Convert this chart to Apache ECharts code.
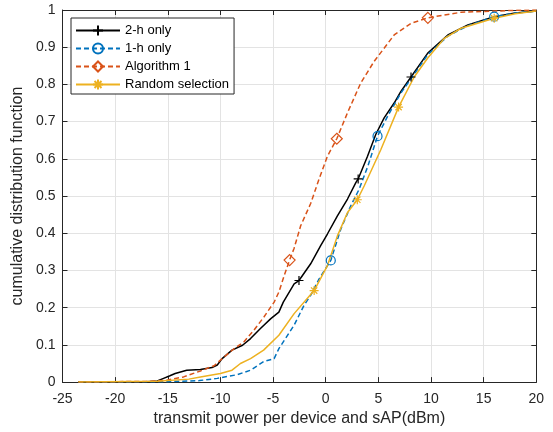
<!DOCTYPE html>
<html>
<head>
<meta charset="utf-8">
<script src="https://cdn.jsdelivr.net/npm/echarts@6/dist/echarts.min.js"></script>
<style>html,body{margin:0;padding:0;background:#fff}#c{width:553px;height:432px}</style>
</head>
<body>
<div id="c"></div>
<script>
// ---- data ----
const seriesNames = ['2-h only', '1-h only', 'Algorithm 1', 'Random selection'];

const x2h = [-23.5, -17, -16, -15.4, -14.8, -14.3, -13.2, -11.9, -10.8, -10.3, -9.84, -8.9, -7.9, -7.14, -6.2, -5.24, -4.45, -4.03, -3.0, -2.54, -1.43, -0.48, 0.16, 1.11, 2.07, 2.86, 3.08, 3.97, 4.76, 5.55, 6.5, 7.14, 8.1, 9.69, 11.6, 13.5, 16.0, 18, 20];
const y2h = [0, 0.001, 0.003, 0.01, 0.017, 0.023, 0.032, 0.034, 0.039, 0.046, 0.063, 0.086, 0.099, 0.117, 0.144, 0.17, 0.188, 0.215, 0.264, 0.273, 0.318, 0.367, 0.398, 0.447, 0.492, 0.536, 0.546, 0.607, 0.666, 0.71, 0.75, 0.781, 0.82, 0.884, 0.933, 0.96, 0.982, 0.992, 0.997];
const m2h = [-2.54, 3.08, 8.1];

const x1h = [-23.5, -15, -12, -10.3, -8.4, -7.14, -5.9, -4.9, -4.45, -3.0, -2.07, -1.43, -0.64, 0.48, 1.43, 2.38, 3.17, 4.0, 4.92, 5.87, 7.14, 8.1, 9.69, 11.6, 13.5, 16.0, 18, 20];
const y1h = [0, 0.001, 0.004, 0.01, 0.02, 0.032, 0.055, 0.063, 0.09, 0.153, 0.206, 0.233, 0.277, 0.327, 0.411, 0.474, 0.518, 0.58, 0.661, 0.714, 0.777, 0.815, 0.88, 0.93, 0.958, 0.982, 0.992, 0.997];
const m1h = [0.48, 4.92, 16.0];

const xAlg = [-23.5, -17, -15.1, -13.5, -11.9, -10.6, -9.84, -8.7, -7.78, -6.83, -5.87, -4.9, -4.45, -3.9, -3.43, -3.0, -2.38, -1.43, -0.64, 0.16, 1.05, 2.07, 3.33, 4.6, 6.5, 8.1, 9.7, 12.86, 16, 18, 20];
const yAlg = [0, 0.002, 0.005, 0.014, 0.03, 0.044, 0.063, 0.09, 0.108, 0.139, 0.175, 0.215, 0.242, 0.29, 0.328, 0.36, 0.42, 0.48, 0.545, 0.607, 0.654, 0.724, 0.804, 0.862, 0.933, 0.964, 0.979, 0.994, 0.997, 0.999, 1];
const mAlg = [-3.43, 1.05, 9.7];

const xRnd = [-23.5, -16, -13, -11.9, -10, -8.9, -8.1, -7.14, -5.9, -4.45, -3.0, -1.1, 0.16, 1.11, 2.07, 3.0, 3.65, 5.24, 6.92, 8.4, 9.69, 11.27, 12.86, 16, 18, 20];
const yRnd = [0, 0.002, 0.008, 0.014, 0.023, 0.032, 0.05, 0.063, 0.086, 0.126, 0.184, 0.246, 0.313, 0.393, 0.456, 0.49, 0.527, 0.625, 0.739, 0.82, 0.871, 0.924, 0.951, 0.978, 0.99, 0.997];
const mRnd = [-1.1, 3.0, 6.92, 16];

const xTicks = [-25, -20, -15, -10, -5, 0, 5, 10, 15, 20];
const yTicks = [0, 0.1, 0.2, 0.3, 0.4, 0.5, 0.6, 0.7, 0.8, 0.9, 1];

// ---- chart ----
const FONT = 'Liberation Sans, Arial, sans-serif';
const AX = '#262626';
const chart = echarts.init(document.getElementById('c'), null, {renderer: 'canvas'});

function build(xs, ys, marks) {
  return xs.map((x, i) => marks.indexOf(x) >= 0 ? {value: [x, ys[i]]} : {value: [x, ys[i]], symbol: 'none'});
}
function mkSeries(name, xs, ys, marks, color, type, symbol, size) {
  return {
    name: name, type: 'line', data: build(xs, ys, marks),
    symbol: symbol, symbolSize: size, showSymbol: true, showAllSymbol: true,
    color: color,
    lineStyle: {color: color, width: 1.5, type: type},
    itemStyle: {color: 'rgba(0,0,0,0)', borderColor: color, borderWidth: 1.2},
    emphasis: {disabled: true}, animation: false, z: 3
  };
}
const plusPath = 'path://M5,0L5,10M0,5L10,5';
const starPath = 'path://M5,0L5,10M0,5L10,5M1.5,1.5L8.5,8.5M1.5,8.5L8.5,1.5';

const axisCommon = {
  axisLine: {show: true, onZero: false, lineStyle: {color: AX, width: 1}},
  axisTick: {show: true, inside: true, length: 5, lineStyle: {color: AX}},
};

chart.setOption({
  animation: false,
  backgroundColor: '#fff',
  textStyle: {fontFamily: FONT},
  grid: {left: 62.5, right: 16.7, top: 10, bottom: 48.3, containLabel: false},
  legend: {
    orient: 'vertical', left: 71, top: 18,
    padding: [6, 5, 3, 4], itemGap: 5, itemWidth: 44, itemHeight: 12.5,
    backgroundColor: '#fff', borderColor: AX, borderWidth: 1, borderRadius: 0,
    textStyle: {fontSize: 13, color: '#000', fontFamily: FONT},
    data: seriesNames
  },
  xAxis: [
    Object.assign({
      type: 'value', min: xTicks[0], max: xTicks[xTicks.length - 1], interval: 5, position: 'bottom',
      name: 'transmit power per device and sAP(dBm)', nameLocation: 'middle', nameGap: 20,
      nameTextStyle: {fontSize: 16, color: AX, fontFamily: FONT},
      axisLabel: {fontSize: 14, color: AX, margin: 10, fontFamily: FONT},
      splitLine: {show: true, lineStyle: {color: '#e3e3e3', width: 1}}
    }, axisCommon),
    Object.assign({
      type: 'value', min: xTicks[0], max: xTicks[xTicks.length - 1], interval: 5, position: 'top',
      axisLabel: {show: false}, splitLine: {show: false}
    }, axisCommon)
  ],
  yAxis: [
    Object.assign({
      type: 'value', min: yTicks[0], max: yTicks[yTicks.length - 1], interval: 0.1, position: 'left',
      name: 'cumulative distribution function', nameLocation: 'middle', nameGap: 31,
      nameTextStyle: {fontSize: 16, color: AX, fontFamily: FONT},
      axisLabel: {fontSize: 14, color: AX, margin: 7, fontFamily: FONT,
        formatter: v => String(+v.toFixed(1))},
      splitLine: {show: true, lineStyle: {color: '#e3e3e3', width: 1}}
    }, axisCommon),
    Object.assign({
      type: 'value', min: yTicks[0], max: yTicks[yTicks.length - 1], interval: 0.1, position: 'right',
      axisLabel: {show: false}, splitLine: {show: false}
    }, axisCommon)
  ],
  series: [
    mkSeries(seriesNames[0], x2h, y2h, m2h, '#000000', 'solid', plusPath, 9),
    mkSeries(seriesNames[1], x1h, y1h, m1h, '#0072BD', [5, 3], 'circle', 9),
    mkSeries(seriesNames[2], xAlg, yAlg, mAlg, '#D95319', [5, 3], 'diamond', 11),
    mkSeries(seriesNames[3], xRnd, yRnd, mRnd, '#EDB120', 'solid', starPath, 9)
  ]
});
</script>
</body>
</html>
